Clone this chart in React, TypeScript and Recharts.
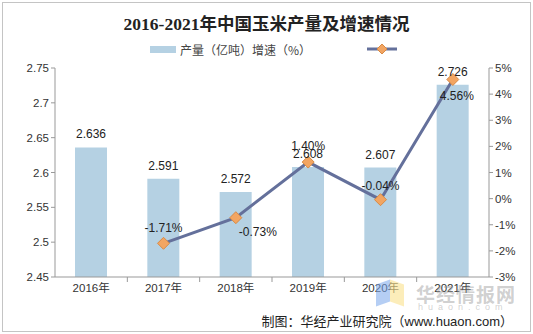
import React from "react";
import {
  Bar,
  ComposedChart,
  LabelList,
  Line,
  XAxis,
  YAxis,
} from "recharts";

const years = ["2016年", "2017年", "2018年", "2019年", "2020年", "2021年"];
const output = [2.636, 2.591, 2.572, 2.608, 2.607, 2.726];
const growth: (number | null)[] = [null, -1.71, -0.73, 1.4, -0.04, 4.56];
const leftTicks = [2.45, 2.5, 2.55, 2.6, 2.65, 2.7, 2.75];
const rightTicks = [-3, -2, -1, 0, 1, 2, 3, 4, 5];

const data = years.map((year, i) => ({ year, output: output[i], growth: growth[i] }));

const SANS = "'Liberation Sans', Arial, 'Noto Sans CJK SC', sans-serif";
const BAR = "#b5d1e3";
const LINE = "#64709b";
const DOT = "#f2a562";

// where each growth label sits relative to its marker
const growthLabelOffset = [
  [0, 0],
  [0, -15],
  [22, 14],
  [0, -16],
  [0, -14],
  [4, 17],
];

function Diamond(props: any) {
  const { cx, cy, value } = props;
  if (value == null || cx == null) return null;
  const r = 6;
  return (
    <path
      d={`M${cx},${cy - r} L${cx + r},${cy} L${cx},${cy + r} L${cx - r},${cy} Z`}
      fill={DOT}
      stroke="#d88a45"
      strokeWidth={1}
    />
  );
}

function GrowthLabel(props: any) {
  const { x, y, value, index } = props;
  if (value == null) return null;
  const [dx, dy] = growthLabelOffset[index] || [0, -14];
  return (
    <text
      x={x + dx}
      y={y + dy}
      textAnchor="middle"
      dominantBaseline="central"
      fontSize={12}
      fontFamily={SANS}
      fill="#222"
    >
      {`${value.toFixed(2)}%`}
    </text>
  );
}

function YearTick(props: any) {
  const { x, y, payload } = props;
  const half = 434 / 6 / 2;
  return (
    <g>
      {payload.index < years.length - 1 && (
        <line x1={x + half} x2={x + half} y1={y - 8} y2={y - 3} stroke="#999" />
      )}
      <text x={x} y={y + 7} textAnchor="middle" fontSize={11.5} fontFamily={SANS} fill="#333">
        {payload.value}
      </text>
    </g>
  );
}

export default function App() {
  return (
    <div
      style={{
        position: "absolute",
        left: 0,
        top: 0,
        width: 533,
        height: 334,
        background: "#fff",
        overflow: "hidden",
      }}
    >
      <div
        style={{
          position: "absolute",
          left: 2,
          top: 2,
          width: 527,
          height: 328,
          border: "1px solid #c4c4c4",
          pointerEvents: "none",
        }}
      />
      <div
        style={{
          position: "absolute",
          top: 10,
          left: 0,
          width: 533,
          textAlign: "center",
          fontFamily: "'Liberation Serif', 'Noto Sans CJK SC', serif",
          fontWeight: "bold",
          fontSize: 17.5,
          color: "#222",
        }}
      >
        2016-2021年中国玉米产量及增速情况
      </div>
      <div style={{ position: "absolute", left: 150, top: 46, width: 26, height: 7, background: BAR }} />
      <div
        style={{
          position: "absolute",
          left: 180,
          top: 41,
          fontFamily: "'Noto Sans CJK SC', sans-serif",
          fontSize: 12,
          color: "#444",
          whiteSpace: "nowrap",
        }}
      >
        产量（亿吨）增速（%）
      </div>
      <svg style={{ position: "absolute", left: 366, top: 42 }} width={32} height={14}>
        <line x1={1} x2={31} y1={7} y2={7} stroke={LINE} strokeWidth={3} />
        <path d="M16,2 L21,7 L16,12 L11,7 Z" fill={DOT} stroke="#d88a45" />
      </svg>

      <ComposedChart
        width={533}
        height={334}
        data={data}
        margin={{ top: 68, right: 10, bottom: 27, left: 10 }}
        barCategoryGap={0}
      >
        <XAxis
          dataKey="year"
          axisLine={{ stroke: "#999" }}
          tickLine={false}
          height={30}
          tick={<YearTick />}
          interval={0}
        />
        <YAxis
          yAxisId="left"
          domain={[2.45, 2.75]}
          ticks={leftTicks}
          allowDataOverflow
          width={45}
          axisLine={{ stroke: "#999" }}
          tickLine={{ stroke: "#999" }}
          tickSize={4}
          tickFormatter={(v: number) => String(Number(v.toFixed(2)))}
          tick={{ fontSize: 11.5, fontFamily: SANS, fill: "#333" }}
        />
        <YAxis
          yAxisId="right"
          orientation="right"
          domain={[-3, 5]}
          ticks={rightTicks}
          width={34}
          axisLine={{ stroke: "#999" }}
          tickLine={{ stroke: "#999" }}
          tickSize={4}
          tickFormatter={(v: number) => `${v}%`}
          tick={{ fontSize: 11.5, fontFamily: SANS, fill: "#333" }}
        />
        <Bar yAxisId="left" dataKey="output" fill={BAR} barSize={32} isAnimationActive={false}>
          <LabelList
            dataKey="output"
            position="top"
            offset={9}
            formatter={(v: any) => Number(v).toFixed(3)}
            style={{ fontSize: 12, fontFamily: SANS, fill: "#222" }}
          />
        </Bar>
        <Line
          yAxisId="right"
          dataKey="growth"
          stroke={LINE}
          strokeWidth={3}
          dot={<Diamond />}
          activeDot={false}
          connectNulls={false}
          isAnimationActive={false}
        >
          <LabelList dataKey="growth" content={<GrowthLabel />} />
        </Line>
      </ComposedChart>

      <div
        style={{
          position: "absolute",
          left: 376,
          top: 282,
          width: 14,
          height: 22,
          background: "rgba(120,165,235,0.55)",
          transform: "skewY(-20deg)",
        }}
      />
      <div
        style={{
          position: "absolute",
          left: 390,
          top: 282,
          width: 14,
          height: 22,
          background: "rgba(250,225,140,0.6)",
          transform: "skewY(20deg)",
        }}
      />
      <div
        style={{
          position: "absolute",
          left: 416,
          top: 280,
          fontFamily: "'Noto Sans CJK SC', sans-serif",
          fontWeight: "bold",
          fontSize: 19,
          color: "rgba(150,150,150,0.45)",
          letterSpacing: 1,
        }}
      >
        华经情报网
      </div>
      <div
        style={{
          position: "absolute",
          left: 418,
          top: 302,
          fontFamily: SANS,
          fontSize: 9,
          color: "rgba(150,150,150,0.45)",
          letterSpacing: 5,
        }}
      >
        huaon.com
      </div>
      <div
        style={{
          position: "absolute",
          right: 20,
          top: 311,
          fontSize: 13,
          color: "#222",
          whiteSpace: "nowrap",
        }}
      >
        <span style={{ fontFamily: "'Noto Sans CJK SC', serif" }}>制图：华经产业研究院（</span>
        <span style={{ fontFamily: SANS }}>www.huaon.com</span>
        <span style={{ fontFamily: "'Noto Sans CJK SC', serif" }}>）</span>
      </div>
    </div>
  );
}
